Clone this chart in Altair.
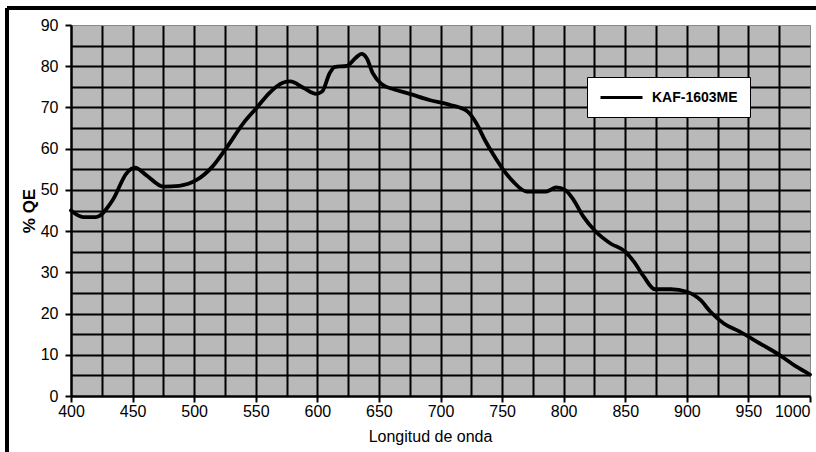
import altair as alt
import pandas as pd

wavelength = [400, 410, 420, 434, 445, 452, 461, 475, 488, 502, 515, 526, 540, 551, 561,
              572, 578, 589, 599, 604, 610, 614, 624, 631, 636, 640, 645, 652, 662, 675,
              691, 708, 722, 729, 736, 743, 750, 759, 770, 786, 794, 801, 808, 816, 826,
              838, 850, 857, 865, 874, 887, 900, 911, 919, 930, 943, 959, 975, 989, 1000]
qe = [45.0, 43.4, 43.4, 47.6, 54.0, 55.4, 53.6, 50.8, 51.0, 52.4, 55.7, 60.1, 66.2, 70.0, 73.5,
      76.0, 76.3, 74.7, 73.3, 73.9, 78.3, 79.8, 80.1, 82.0, 83.0, 82.0, 78.3, 75.7, 74.4, 73.3,
      71.8, 70.6, 69.0, 66.2, 62.1, 58.5, 55.3, 52.0, 49.6, 49.6, 50.6, 50.0, 47.6, 43.5, 39.9,
      37.0, 35.0, 32.6, 29.0, 25.9, 25.9, 25.3, 23.3, 20.5, 17.6, 15.6, 12.8, 10.0, 7.1, 5.2]
series_name = "KAF-1603ME"

x_grid = list(range(400, 1001, 25))
y_grid = list(range(0, 91, 5))

df = pd.DataFrame({"nm": wavelength, "qe": qe, "serie": [series_name] * len(qe)})

FONT = "Liberation Sans"

line = alt.Chart(df).mark_line(strokeWidth=3.8, interpolate="monotone", strokeCap="round").encode(
    x=alt.X("nm:Q", scale=alt.Scale(domain=[400, 1000], nice=False, zero=False),
            axis=alt.Axis(values=x_grid, title="Longitud de onda",
                          labelExpr="datum.value % 50 === 0 ? '' + datum.value : ''",
                          labelAlign=alt.ExprRef("datum.value === 1000 ? 'right' : 'center'"),
                          tickOpacity=alt.ExprRef("datum.value % 50 === 0 ? 1 : 0"),
                          grid=True,
                          gridColor=alt.ExprRef("datum.value === 1000 ? '#8a8a8a' : '#000000'"),
                          gridWidth=alt.ExprRef("datum.value === 1000 ? 1 : 2"),
                          gridOpacity=1,
                          domainColor="#000000", domainWidth=2,
                          tickColor="#000000", tickWidth=2, tickSize=6,
                          labelFont=FONT, labelFontSize=16, labelColor="#000000",
                          labelPadding=1, labelFlush=False, labelOverlap=False,
                          titleFont=FONT, titleFontSize=16, titleFontWeight="normal",
                          titleColor="#000000", titlePadding=9, titleX=359)),
    y=alt.Y("qe:Q", scale=alt.Scale(domain=[0, 90], nice=False),
            axis=alt.Axis(values=y_grid, title="% QE",
                          labelExpr="datum.value % 10 === 0 ? datum.label : ''",
                          tickOpacity=alt.ExprRef("datum.value % 10 === 0 ? 1 : 0"),
                          grid=True,
                          gridColor=alt.ExprRef("datum.value === 90 ? '#8a8a8a' : '#000000'"),
                          gridWidth=alt.ExprRef("datum.value === 90 ? 1 : 2"),
                          gridOpacity=1,
                          domainColor="#000000", domainWidth=2,
                          tickColor="#000000", tickWidth=2, tickSize=6,
                          labelFont=FONT, labelFontSize=16, labelColor="#000000",
                          labelPadding=7, labelOverlap=False,
                          titleFont=FONT, titleFontSize=17, titleFontWeight="bold",
                          titleColor="#000000", titlePadding=2)),
    color=alt.Color("serie:N", scale=alt.Scale(range=["#000000"]),
                    legend=alt.Legend(title=None, orient="none", legendX=516, legendY=52,
                                      fillColor="#ffffff", strokeColor="#000000",
                                      padding=12, symbolType="M-1,0H5", symbolSize=196,
                                      symbolStrokeWidth=3, symbolStrokeColor="#000000",
                                      labelFont=FONT, labelFontSize=14,
                                      labelFontWeight="bold", labelColor="#000000",
                                      labelOffset=36)),
)

frame_left = alt.Chart(df).mark_rule(color="#000000", strokeWidth=2.5).encode(
    x=alt.value(-64), y=alt.value(-17), y2=alt.value(450))
frame_top = alt.Chart(df).mark_rule(color="#000000", strokeWidth=2.5).encode(
    x=alt.value(-64), x2=alt.value(760), y=alt.value(-17))

chart = alt.layer(line, frame_left, frame_top).properties(
    width=739, height=371,
    autosize=alt.AutoSizeParams(type="none"),
    padding={"left": 71, "top": 25, "right": 6, "bottom": 56},
    background="#ffffff",
).configure_view(fill="#b9b9b9", stroke="#8a8a8a", strokeWidth=1)

chart.save("out.html", embed_options={"renderer": "svg", "actions": False})
